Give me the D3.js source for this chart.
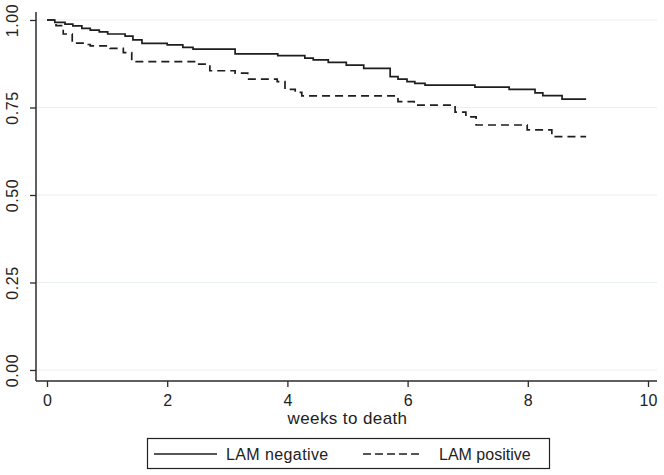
<!DOCTYPE html>
<html>
<head>
<meta charset="utf-8">
<script src="https://cdn.jsdelivr.net/npm/d3@7/dist/d3.min.js"></script>
<style>
  html, body { margin: 0; padding: 0; background: #fff; }
  svg { display: block; font-family: "Liberation Sans", Arial, sans-serif; }
</style>
</head>
<body>
<svg id="chart" width="664" height="475"></svg>
<script>
// ---- data ----
const negTimes = [0, 0.13, 0.30, 0.43, 0.58, 0.72, 0.87, 1.01, 1.30, 1.43, 1.58, 2.00, 2.26, 2.43, 3.13, 3.84, 4.29, 4.43, 4.68, 4.98, 5.27, 5.71, 5.84, 5.99, 6.12, 6.29, 7.12, 7.69, 8.12, 8.25, 8.57, 8.97];
const negSurv  = [1.000, 0.993, 0.988, 0.983, 0.976, 0.971, 0.966, 0.960, 0.954, 0.943, 0.933, 0.929, 0.922, 0.917, 0.903, 0.898, 0.891, 0.886, 0.879, 0.871, 0.862, 0.838, 0.831, 0.824, 0.819, 0.814, 0.808, 0.802, 0.792, 0.784, 0.774, 0.774];
const posTimes = [0, 0.15, 0.27, 0.42, 0.65, 0.72, 1.05, 1.27, 1.41, 2.48, 2.71, 3.13, 3.34, 3.83, 3.96, 4.13, 4.24, 5.84, 6.11, 6.79, 6.97, 7.14, 7.99, 8.40, 8.97];
const posSurv  = [1.000, 0.984, 0.960, 0.934, 0.930, 0.926, 0.919, 0.907, 0.881, 0.874, 0.855, 0.848, 0.831, 0.824, 0.802, 0.793, 0.783, 0.767, 0.757, 0.737, 0.723, 0.700, 0.686, 0.667, 0.667];
const xTicks = [0, 2, 4, 6, 8, 10];
const yTicks = [0, 0.25, 0.5, 0.75, 1];
const seriesNames = ["LAM negative", "LAM positive"];
const xTitle = "weeks to death";

// ---- layout ----
const svg = d3.select("#chart");
const x = d3.scaleLinear().domain([0, 10]).range([47, 648]);
const y = d3.scaleLinear().domain([0, 1]).range([370, 20]);
const axisX0 = 36, axisX1 = 657, axisYTop = 12, axisYBot = 381;
const ink = "#2b2b2b";

// gridlines
svg.append("g").selectAll("line").data(yTicks).join("line")
  .attr("x1", axisX0 + 1).attr("x2", axisX1)
  .attr("y1", d => y(d)).attr("y2", d => y(d))
  .attr("stroke", "#e8f0f1").attr("stroke-width", 1.2);

// y axis
const gy = svg.append("g").attr("transform", `translate(${axisX0},0)`)
  .call(d3.axisLeft(y).tickValues(yTicks).tickFormat(d3.format(".2f")).tickSize(6).tickPadding(0));
gy.select(".domain").remove();
gy.selectAll(".tick line").attr("stroke", ink).attr("stroke-width", 1.3);
gy.selectAll(".tick text")
  .attr("x", null).attr("dy", null)
  .attr("transform", "translate(-18,0) rotate(-90)")
  .attr("text-anchor", "middle")
  .attr("font-size", 16).attr("letter-spacing", 0.6)
  .attr("fill", "#222").attr("font-family", "Liberation Sans, Arial, sans-serif");

// x axis
const gx = svg.append("g").attr("transform", `translate(0,${axisYBot})`)
  .call(d3.axisBottom(x).tickValues(xTicks).tickSize(6).tickPadding(0));
gx.select(".domain").remove();
gx.selectAll(".tick line").attr("stroke", ink).attr("stroke-width", 1.3);
gx.selectAll(".tick text")
  .attr("y", 25).attr("dy", null)
  .attr("font-size", 16).attr("fill", "#222")
  .attr("font-family", "Liberation Sans, Arial, sans-serif");

// axis lines
svg.append("line").attr("x1", axisX0).attr("x2", axisX0).attr("y1", axisYTop).attr("y2", axisYBot)
  .attr("stroke", ink).attr("stroke-width", 1.5);
svg.append("line").attr("x1", axisX0).attr("x2", axisX1).attr("y1", axisYBot).attr("y2", axisYBot)
  .attr("stroke", ink).attr("stroke-width", 1.5);

// x title
svg.append("text").attr("x", (x(0) + x(10)) / 2).attr("y", 424)
  .attr("text-anchor", "middle").attr("font-size", 17).attr("letter-spacing", 0.4)
  .attr("fill", "#222").text(xTitle);

// curves
const line = d3.line().x(d => x(d[0])).y(d => y(d[1])).curve(d3.curveStepAfter);
const negData = d3.zip(negTimes, negSurv);
const posData = d3.zip(posTimes, posSurv);
svg.append("path").datum(negData).attr("d", line)
  .attr("fill", "none").attr("stroke", "#1e1e1e").attr("stroke-width", 1.7);
svg.append("path").datum(posData).attr("d", line)
  .attr("fill", "none").attr("stroke", "#1e1e1e").attr("stroke-width", 1.7)
  .attr("stroke-dasharray", "8,5");

// legend
const lg = svg.append("g");
lg.append("rect").attr("x", 147.5).attr("y", 438.5).attr("width", 402).attr("height", 30)
  .attr("fill", "#fff").attr("stroke", "#222").attr("stroke-width", 1.2);
lg.append("line").attr("x1", 154).attr("x2", 217).attr("y1", 454).attr("y2", 454)
  .attr("stroke", "#1e1e1e").attr("stroke-width", 1.5);
lg.append("text").attr("x", 226).attr("y", 460).attr("font-size", 16).attr("letter-spacing", 0.4)
  .attr("fill", "#222").text(seriesNames[0]);
lg.append("line").attr("x1", 363).attr("x2", 422).attr("y1", 454).attr("y2", 454)
  .attr("stroke", "#1e1e1e").attr("stroke-width", 1.5).attr("stroke-dasharray", "8,4");
lg.append("text").attr("x", 439).attr("y", 460).attr("font-size", 16).attr("letter-spacing", 0.0)
  .attr("fill", "#222").text(seriesNames[1]);
</script>
</body>
</html>
